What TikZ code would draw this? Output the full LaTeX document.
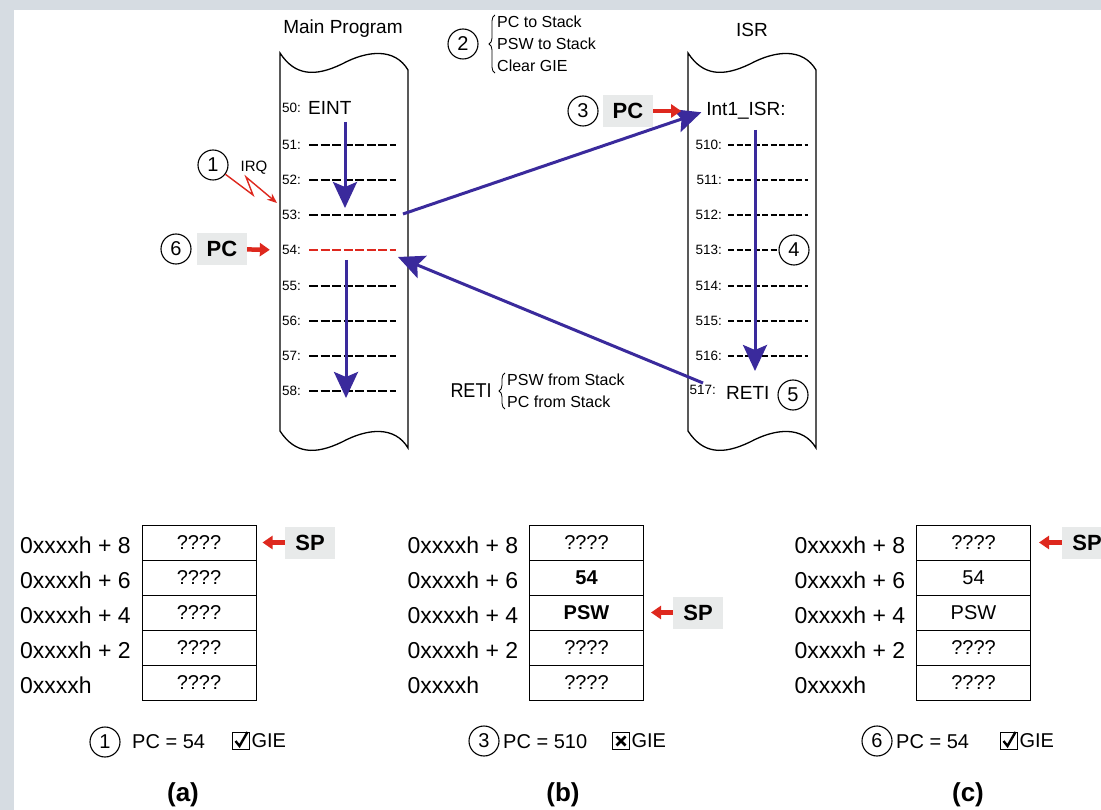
\documentclass[tikz,border=0pt]{standalone}
\usepackage{fontspec}
\setmainfont{Liberation Sans}
\newfontfamily\narrowfont[FakeStretch=0.9]{Liberation Sans}
\usetikzlibrary{arrows.meta,positioning,calc,decorations.pathreplacing}

\definecolor{flowblue}{RGB}{58,42,156}
\definecolor{pcred}{RGB}{222,40,30}
\definecolor{tagbg}{RGB}{232,234,234}
\definecolor{framegray}{RGB}{214,220,226}

\begin{document}
\begin{tikzpicture}[
    x=1pt, y=-1pt,
    title/.style={font=\fontsize{19}{22}\selectfont},
    lineno/.style={anchor=east, inner sep=1pt, font=\fontsize{13.5}{15}\selectfont},
    instr/.style={inner sep=1pt, font=\fontsize{19}{24}\selectfont},
    stepnum/.style={circle, draw, line width=1.1pt, fill=white, minimum size=30pt, inner sep=0pt, font=\fontsize{20}{24}\selectfont},
    regtag/.style={fill=tagbg, minimum width=50pt, minimum height=32pt, inner sep=0pt, font=\bfseries\fontsize{22}{26}\selectfont},
    codeline/.style={line width=2pt, dash pattern=on 9pt off 2.5pt},
    isrline/.style={line width=2pt, dash pattern=on 6pt off 2.5pt},
    flow/.style={-{Stealth[length=26pt,width=24pt,inset=5pt]}, line width=3pt, draw=flowblue},
    pcarrow/.style={-{Triangle[length=10pt,width=13pt]}, line width=4.5pt, draw=pcred},
    irq/.style={-{Stealth[length=10pt,width=8pt]}, line width=1.4pt, draw=pcred},
    brace/.style={decorate, decoration={brace, amplitude=6pt}, line width=0.8pt},
    note/.style={align=left, inner sep=1pt, font=\fontsize{16}{22}\selectfont},
    cell/.style={draw, line width=1pt, minimum width=114pt, minimum height=35pt, inner sep=0pt, font=\fontsize{20}{24}\selectfont},
    addr/.style={anchor=west, inner sep=0pt, font=\fontsize{23}{26}\selectfont},
    status/.style={inner sep=1pt, font=\fontsize{20}{24}\selectfont},
    giebox/.style={draw, line width=1.8pt, minimum size=17pt, inner sep=0pt},
    caption/.style={font=\bfseries\fontsize{26}{30}\selectfont}
]
    \useasboundingbox (0,0) rectangle (1101,810);
    \fill[framegray] (0,0) rectangle (1101,810);
    \fill[white] (14,10) rectangle (1101,810);

    % program scrolls
    \foreach \L in {280,688} {
        \draw[line width=1.3pt, fill=white] (\L,53) .. controls (\L+15,76) and (\L+35,77) .. (\L+62,64)
            .. controls (\L+88,50) and (\L+115,48) .. (\L+128,70) -- (\L+128,448)
            .. controls (\L+115,426) and (\L+88,428) .. (\L+62,442)
            .. controls (\L+35,455) and (\L+15,454) .. (\L,431) -- cycle;
    }
    \node[title] (mainttl) at (343,29) {Main Program};
    \node[title] (isrttl) at (752,30) {ISR};

    % main program lines
    \node[lineno] (m50) at (302,108) {50:};
    \node[instr, anchor=west] (eint) at (307,108) {EINT};
    \foreach \n/\y in {51/145, 52/180, 53/215, 55/286, 56/321, 57/356, 58/391} {
        \node[lineno] (m\n) at (302,\y) {\n:};
        \draw[codeline] (309,\y) -- (396,\y);
    }
    \node[lineno] (m54) at (302,250) {54:};
    \draw[codeline, draw=pcred, line width=1.5pt] (309,250) -- (396,250);

    % ISR lines
    \node[instr] (isr) at (746,111) {Int1\_ISR:};
    \foreach \n/\y in {510/145, 511/180, 512/215, 513/250, 514/286, 515/321, 516/356} {
        \node[lineno] (i\n) at (723,\y) {\n:};
        \draw[isrline] (728,\y) -- (808,\y);
    }
    \node[lineno] (i517) at (717,390) {517:};
    \node[instr, anchor=west] (reti) at (725,393) {RETI};
    \node[stepnum] (s4) at (794,250) {4};
    \node[stepnum] (s5) at (793,395) {5};

    % flow of control
    \coordinate (f1a) at (345,122);
    \coordinate (f1b) at (345,208);
    \coordinate (f2a) at (346,260);
    \coordinate (f2b) at (346,398);
    \coordinate (f3a) at (755,130);
    \coordinate (f3b) at (755,371);
    \coordinate (jmp) at (403,214);
    \coordinate (retsrc) at (703,383);
    \coordinate (back) at (398,257);
    \draw[flow] (f1a) -- (f1b);
    \draw[flow] (f2a) -- (f2b);
    \draw[flow] (f3a) -- (f3b);
    \draw[flow, shorten >=4pt] (jmp) -- (isr.west);
    \draw[flow] (retsrc) -- (back);

    % interrupt request
    \node[stepnum] (s1) at (213,165) {1};
    \node[note, font=\fontsize{15}{18}\selectfont] (irqlbl) at (254,168) {IRQ};
    \coordinate (irqtip) at (277,203);
    \draw[irq] (s1) -- (253,195) -- (246,177) -- (irqtip);

    % return PC
    \node[stepnum] (s6) at (176,249) {6};
    \node[regtag] (pc6) at (222,249) {PC};
    \draw[pcarrow, shorten >=11pt] (pc6) -- (m54.west);

    % ISR entry PC
    \node[stepnum] (s3) at (583,111) {3};
    \node[regtag] (pc3) at (628,111) {PC};
    \draw[pcarrow, shorten >=24pt] (pc3) -- (isr.west);

    % push / pop notes
    \node[stepnum] (s2) at (463,44) {2};
    \node[note, anchor=west] (push) at (496,44) {PC to Stack\\PSW to Stack\\Clear GIE};
    \draw[brace] ([xshift=-1pt]push.south west) -- ([xshift=-1pt]push.north west);
    \node[instr, font=\narrowfont\fontsize{20}{24}\selectfont] (retinote) at (471,391) {RETI};
    \node[note, anchor=west] (pop) at (506,391) {PSW from Stack\\PC from Stack};
    \draw[brace] ([xshift=-1pt]pop.south west) -- ([xshift=-1pt]pop.north west);

    % stack snapshots
    \foreach \p/\bx/\vb/\vc in {a/199/????/????, b/586.5/\textbf{54}/\textbf{PSW}, c/973.5/54/PSW} {
        \foreach \r/\lbl/\val in {1/0xxxxh + 8/????, 2/0xxxxh + 6/\vb, 3/0xxxxh + 4/\vc, 4/0xxxxh + 2/????, 5/0xxxxh/????} {
            \node[cell] (\p\r) at (\bx,507.5+35*\r) {\val};
            \node[addr] (\p l\r) at (\bx-179,510+35*\r) {\lbl};
        }
    }
    \node[regtag] (spa) at (310,542.5) {SP};
    \node[regtag] (spb) at (698,612.5) {SP};
    \node[regtag] (spc) at (1087,542.5) {SP};
    \draw[pcarrow, shorten >=6pt] (spa) -- (a1);
    \draw[pcarrow, shorten >=7pt] (spb) -- (b3);
    \draw[pcarrow, shorten >=8pt] (spc) -- (c1);

    % state lines
    \node[stepnum] (sa) at (105,742) {1};
    \node[status, anchor=west] (pca) at (131,742) {PC = 54};
    \node[giebox] (boxa) at (241,741) {};
    \node[status, anchor=west, inner sep=0pt] (giea) at ([xshift=1pt]boxa.east) {GIE};
    \draw[line width=2.4pt] ([shift={(-5.5,0)}]boxa.center) -- ([shift={(-1.5,5)}]boxa.center) -- ([shift={(6.5,-9)}]boxa.center);

    \node[stepnum] (sb) at (484,741) {3};
    \node[status, anchor=west] (pcb) at (502,742) {PC = 510};
    \node[giebox] (boxb) at (621,741) {};
    \node[status, anchor=west, inner sep=0pt] (gieb) at ([xshift=1pt]boxb.east) {GIE};
    \draw[line width=2.8pt] ([shift={(-4.5,-4.5)}]boxb.center) -- ([shift={(4.5,4.5)}]boxb.center);
    \draw[line width=2.8pt] ([shift={(-4.5,4.5)}]boxb.center) -- ([shift={(4.5,-4.5)}]boxb.center);

    \node[stepnum] (sc) at (877,741) {6};
    \node[status, anchor=west] (pcc) at (895,742) {PC = 54};
    \node[giebox] (boxc) at (1009,741) {};
    \node[status, anchor=west, inner sep=0pt] (giec) at ([xshift=1pt]boxc.east) {GIE};
    \draw[line width=2.4pt] ([shift={(-5.5,0)}]boxc.center) -- ([shift={(-1.5,5)}]boxc.center) -- ([shift={(6.5,-9)}]boxc.center);

    \node[caption] (capa) at (183,795) {(a)};
    \node[caption] (capb) at (563,795) {(b)};
    \node[caption] (capc) at (968,795) {(c)};
\end{tikzpicture}
\end{document}
